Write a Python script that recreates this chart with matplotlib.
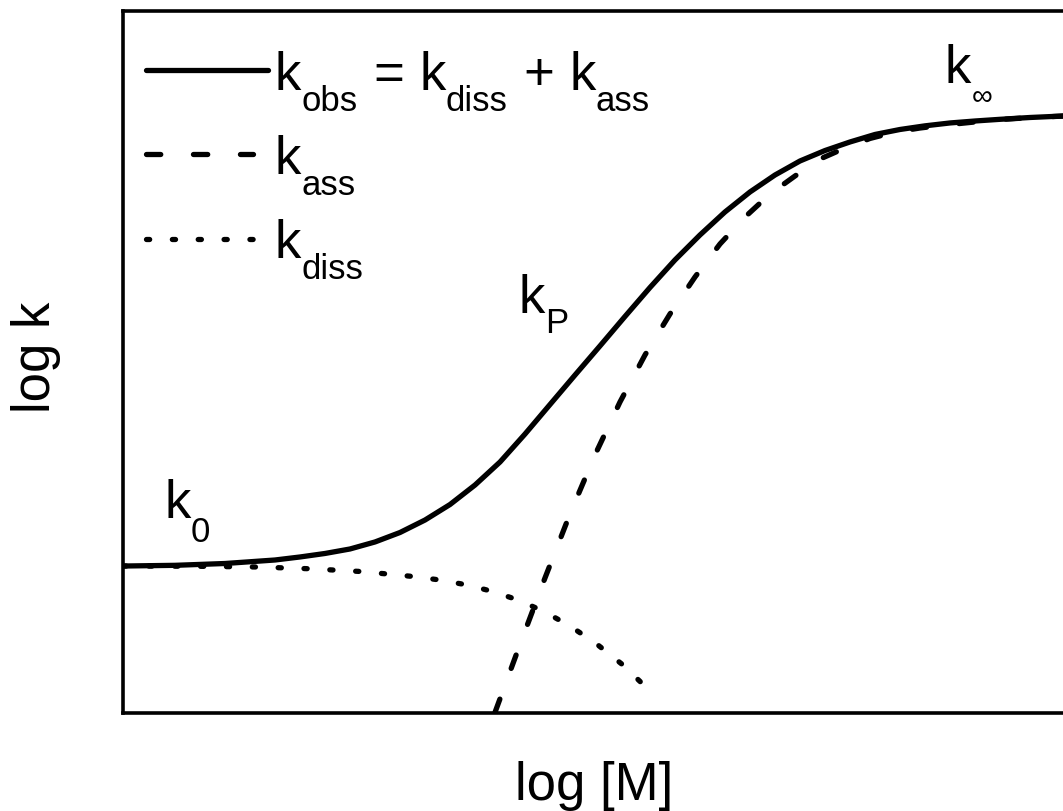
import matplotlib
matplotlib.use("Agg")
import matplotlib.pyplot as plt
from matplotlib.lines import Line2D

plt.rcParams['font.family'] = ['Liberation Sans', 'DejaVu Sans']

# ---- data (arbitrary units: x = log[M], y = log k) ----
obs_x = [0.000, 0.553, 1.085, 1.617, 1.883, 2.149, 2.415, 2.681, 2.947, 3.213,
         3.479, 3.745, 4.011, 4.277, 4.543, 4.809, 5.074, 5.340, 5.606, 5.872,
         6.138, 6.404, 6.670, 6.936, 7.202, 7.468, 7.734, 8.000, 8.266, 8.532,
         8.798, 9.064, 9.330, 9.649, 10.000]
obs_y = [2.088, 2.098, 2.124, 2.174, 2.217, 2.267, 2.331, 2.431, 2.566, 2.744,
         2.965, 3.243, 3.571, 3.970, 4.391, 4.811, 5.225, 5.645, 6.058, 6.451,
         6.807, 7.135, 7.420, 7.662, 7.862, 8.011, 8.133, 8.240, 8.311, 8.363,
         8.404, 8.432, 8.456, 8.482, 8.503]

diss_x = [0.000, 0.819, 1.436, 1.989, 2.543, 3.085, 3.372, 3.649, 3.926, 4.202,
          4.479, 4.755, 5.032, 5.319, 5.606]
diss_y = [2.088, 2.084, 2.074, 2.049, 2.009, 1.939, 1.889, 1.821, 1.728, 1.604,
          1.440, 1.233, 0.984, 0.677, 0.306]

ass_x = [3.957, 4.223, 4.489, 4.755, 5.021, 5.287, 5.553, 5.819, 6.085, 6.351,
         6.617, 6.883, 7.149, 7.415, 7.681, 7.947, 8.213, 8.479, 8.745, 9.011,
         9.330, 9.649, 10.000]
ass_y = [0.000, 0.969, 1.917, 2.830, 3.671, 4.426, 5.096, 5.681, 6.208, 6.679,
         7.063, 7.391, 7.648, 7.890, 8.047, 8.183, 8.275, 8.332, 8.375, 8.411,
         8.453, 8.480, 8.502]

W, H = 1063, 812
LW = 3.8
DASHED = (0, (2.7, 6.2))
DOTTED = (0, (0.6, 4.3))

fig = plt.figure(figsize=(W / 100, H / 100), dpi=100)
ax = fig.add_axes([123 / W, (H - 713.5) / H, (W - 123) / W, (713.5 - 12) / H])
ax.set_xlim(0, 10)
ax.set_ylim(0, 10)
ax.set_xticks([])
ax.set_yticks([])
ax.spines['right'].set_visible(False)
for s in ['left', 'bottom', 'top']:
    ax.spines[s].set_linewidth(2.6)

ax.plot(obs_x, obs_y, color='black', lw=LW, solid_capstyle='round',
        solid_joinstyle='round')
ax.plot(ass_x, ass_y, color='black', lw=LW, linestyle=DASHED, dash_capstyle='round')
ax.plot(diss_x, diss_y, color='black', lw=LW, linestyle=DOTTED, dash_capstyle='round')

renderer = fig.canvas.get_renderer()


def fx(px):
    return px / W


def fy(py):
    return 1 - py / H


def seq(x_px, y_px, pieces):
    """pieces: (text, fontsize, baseline drop in px, gap before in px)"""
    x = x_px
    for s, size, dy, gap in pieces:
        x += gap
        t = fig.text(fx(x), fy(y_px + dy), s, fontsize=size, va='baseline', ha='left')
        bb = t.get_window_extent(renderer=renderer)
        x += bb.width


MAIN, SUB, DROP = 38, 25, 21

# legend handles
fig.add_artist(Line2D([fx(145.5), fx(267.5)], [fy(71), fy(71)], color='black', lw=LW,
                      solid_capstyle='round'))
fig.add_artist(Line2D([fx(145.5), fx(253)], [fy(155), fy(155)], color='black', lw=LW,
                      linestyle=DASHED, dash_capstyle='round'))
fig.add_artist(Line2D([fx(146), fx(254)], [fy(240), fy(240)], color='black', lw=LW,
                      linestyle=DOTTED, dash_capstyle='round'))

seq(275, 90, [('k', MAIN, 0, 0), ('obs', SUB, DROP, 0), ('=', MAIN, 0, 16),
              ('k', MAIN, 0, 15), ('diss', SUB, DROP, 0), ('+', MAIN, 0, 16),
              ('k', MAIN, 0, 15), ('ass', SUB, DROP, 0)])
seq(275, 174, [('k', MAIN, 0, 0), ('ass', SUB, DROP, 0)])
seq(275, 258, [('k', MAIN, 0, 0), ('diss', SUB, DROP, 0)])

# curve annotations
seq(164, 518, [('k', MAIN, 0, 0), ('0', SUB, 24, 0)])
seq(519, 313, [('k', MAIN, 0, 0), ('P', SUB, 20, 0)])
seq(944, 83, [('k', MAIN, 0, 0), ('\u221e', 21, 22, 2)])

# axis labels
fig.text(fx(50), fy(357.5), 'log k', fontsize=MAIN, rotation=90,
         rotation_mode='anchor', ha='center', va='baseline')
fig.text(fx(594), fy(800), 'log [M]', fontsize=MAIN, ha='center', va='baseline')

fig.savefig('out.png', dpi=100)
